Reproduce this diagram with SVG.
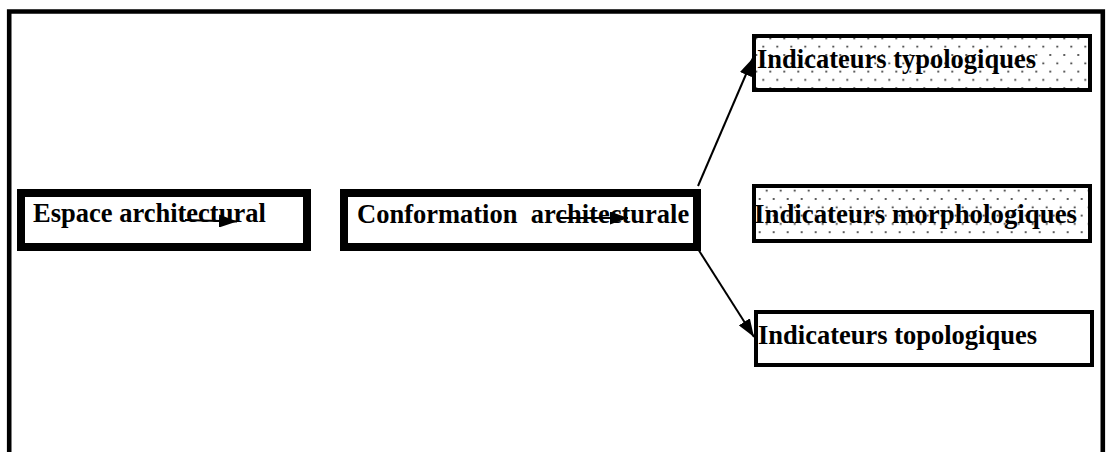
<svg xmlns="http://www.w3.org/2000/svg" width="1107" height="452" viewBox="0 0 1107 452">
  <style>
    .label { font-family: "Liberation Serif", "Times New Roman", serif; font-weight: bold; font-size: 26.5px; fill: #000; }
    .thick { fill: #fff; stroke: #000; stroke-width: 8; }
    .thin { stroke: #000; stroke-width: 4; }
    .edge { fill: none; stroke: #000; stroke-width: 2; }
    .dot { fill: #333; }
  </style>
  <defs>
    <!-- staggered dot screen used as light shading -->
    <pattern id="dotsA" patternUnits="userSpaceOnUse" x="756.3" y="38.4" width="14" height="16.6">
      <rect width="14" height="16.6" fill="#fff"/>
      <circle class="dot" cx="0" cy="0" r="1.05"/>
      <circle class="dot" cx="14" cy="0" r="1.05"/>
      <circle class="dot" cx="0" cy="16.6" r="1.05"/>
      <circle class="dot" cx="14" cy="16.6" r="1.05"/>
      <circle class="dot" cx="7" cy="8.3" r="1.05"/>
    </pattern>
    <pattern id="dotsB" patternUnits="userSpaceOnUse" x="759.7" y="182.4" width="14" height="16.6">
      <rect width="14" height="16.6" fill="#fff"/>
      <circle class="dot" cx="0" cy="0" r="1.05"/>
      <circle class="dot" cx="14" cy="0" r="1.05"/>
      <circle class="dot" cx="0" cy="16.6" r="1.05"/>
      <circle class="dot" cx="14" cy="16.6" r="1.05"/>
      <circle class="dot" cx="7" cy="8.3" r="1.05"/>
    </pattern>
    <marker id="head" markerUnits="userSpaceOnUse" markerWidth="19" markerHeight="13" refX="18" refY="6.5" orient="auto">
      <path d="M0,0 L18,6.5 L0,13 z" fill="#000"/>
    </marker>
  </defs>

  <rect width="1107" height="452" fill="#fff"/>

  <!-- outer frame, open at the bottom -->
  <path d="M9.2,452 V11.5 H1102.8 V452" fill="none" stroke="#000" stroke-width="4.6"/>

  <g id="node-espace">
    <rect class="thick" x="21" y="193" width="286" height="54"/>
    <text class="label" x="33" y="222">Espace architectural</text>
  </g>

  <g id="node-conformation">
    <rect class="thick" x="344" y="193" width="353" height="54"/>
    <text class="label" x="357" y="223" xml:space="preserve">Conformation  architecturale</text>
  </g>

  <g id="node-typologiques">
    <rect class="thin" x="754" y="36" width="336" height="54" fill="url(#dotsA)"/>
    <text class="label" x="757" y="68">Indicateurs typologiques</text>
  </g>

  <g id="node-morphologiques">
    <rect class="thin" x="754" y="186" width="336" height="55" fill="url(#dotsB)"/>
    <text class="label" x="754" y="223" textLength="323" lengthAdjust="spacingAndGlyphs">Indicateurs morphologiques</text>
  </g>

  <g id="node-topologiques">
    <rect class="thin" x="756" y="312" width="336" height="53" fill="#fff"/>
    <text class="label" x="758" y="344">Indicateurs topologiques</text>
  </g>

  <g id="connectors">
    <line class="edge" x1="185" y1="220" x2="237" y2="221.5" marker-end="url(#head)"/>
    <line class="edge" x1="560" y1="218" x2="628" y2="218" marker-end="url(#head)"/>
    <line class="edge" x1="698" y1="186" x2="753" y2="58" marker-end="url(#head)"/>
    <line class="edge" x1="698" y1="249" x2="754" y2="337" marker-end="url(#head)"/>
  </g>
</svg>
